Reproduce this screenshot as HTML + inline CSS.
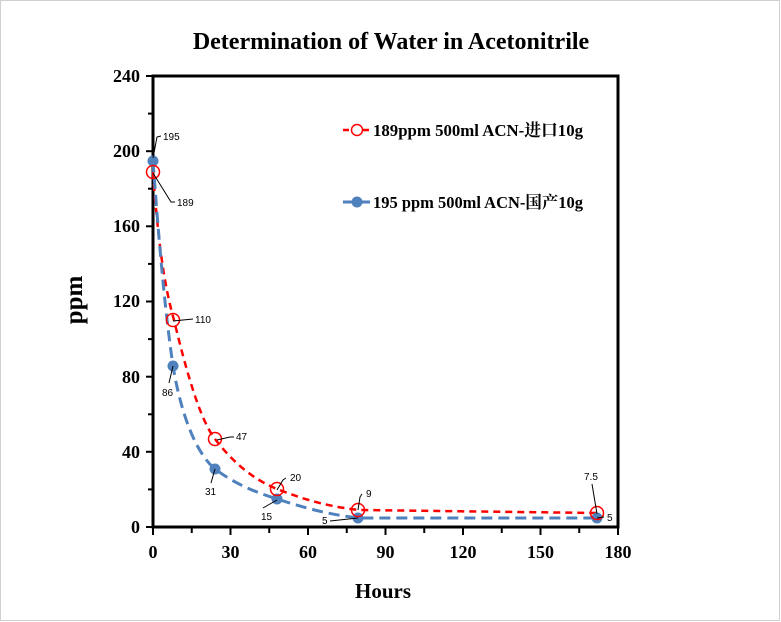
<!DOCTYPE html>
<html><head><meta charset="utf-8"><style>
html,body{margin:0;padding:0;background:#fff}
svg{display:block}
</style></head><body>
<svg width="781" height="622" xmlns="http://www.w3.org/2000/svg" font-family="Liberation Serif, Noto Serif CJK SC, serif">
<rect x="0.5" y="0.5" width="779" height="620" fill="#fff" stroke="#d0d0d0"/>
<text x="391" y="49" text-anchor="middle" font-size="24" font-weight="bold">Determination  of Water in Acetonitrile</text>
<rect x="153" y="76" width="465" height="451" fill="none" stroke="#000" stroke-width="3"/>
<g stroke="#000" stroke-width="2">
<line x1="146" y1="76" x2="153" y2="76"/><line x1="148" y1="113.6" x2="153" y2="113.6"/>
<line x1="146" y1="151.2" x2="153" y2="151.2"/><line x1="148" y1="188.7" x2="153" y2="188.7"/>
<line x1="146" y1="226.3" x2="153" y2="226.3"/><line x1="148" y1="263.9" x2="153" y2="263.9"/>
<line x1="146" y1="301.5" x2="153" y2="301.5"/><line x1="148" y1="339.1" x2="153" y2="339.1"/>
<line x1="146" y1="376.7" x2="153" y2="376.7"/><line x1="148" y1="414.3" x2="153" y2="414.3"/>
<line x1="146" y1="451.8" x2="153" y2="451.8"/><line x1="148" y1="489.4" x2="153" y2="489.4"/>
<line x1="146" y1="527" x2="153" y2="527"/>
<line x1="153" y1="527" x2="153" y2="535"/><line x1="191.75" y1="527" x2="191.75" y2="533"/>
<line x1="230.5" y1="527" x2="230.5" y2="535"/><line x1="269.25" y1="527" x2="269.25" y2="533"/>
<line x1="308" y1="527" x2="308" y2="535"/><line x1="346.75" y1="527" x2="346.75" y2="533"/>
<line x1="385.5" y1="527" x2="385.5" y2="535"/><line x1="424.25" y1="527" x2="424.25" y2="533"/>
<line x1="463" y1="527" x2="463" y2="535"/><line x1="501.75" y1="527" x2="501.75" y2="533"/>
<line x1="540.5" y1="527" x2="540.5" y2="535"/><line x1="579.25" y1="527" x2="579.25" y2="533"/>
<line x1="618" y1="527" x2="618" y2="535"/>
</g>
<g font-size="18" font-weight="bold" text-anchor="end">
<text x="140" y="82">240</text><text x="140" y="157">200</text><text x="140" y="232">160</text>
<text x="140" y="307">120</text><text x="140" y="383">80</text><text x="140" y="458">40</text><text x="140" y="533">0</text>
</g>
<g font-size="18" font-weight="bold" text-anchor="middle">
<text x="153" y="558">0</text><text x="230.5" y="558">30</text><text x="308" y="558">60</text>
<text x="385.5" y="558">90</text><text x="463" y="558">120</text><text x="540.5" y="558">150</text><text x="618" y="558">180</text>
</g>
<text x="383" y="598" text-anchor="middle" font-size="21" font-weight="bold">Hours</text>
<text transform="translate(82,300) rotate(-90)" text-anchor="middle" font-size="25" font-weight="bold">ppm</text>
<path d="M153,172 C158,240 164,285 174,320 C186,370 200,420 215,439 C235,465 255,480 277,489 C305,500 330,507 360,510 L597,513" fill="none" stroke="#ff0000" stroke-width="2.5" stroke-dasharray="7,5"/>
<path d="M153,161 C160,255 165,310 173,366 C182,420 198,455 215,469 C235,484 255,492 277,499 C305,508 330,515 360,518 L597,518" fill="none" stroke="#4f81bd" stroke-width="3" stroke-dasharray="11,6"/>
<g fill="#4f81bd">
<circle cx="153" cy="161" r="5.5"/><circle cx="173" cy="366" r="5.5"/><circle cx="215" cy="469" r="5.5"/>
<circle cx="277" cy="499" r="5.5"/><circle cx="358" cy="518" r="5.5"/><circle cx="597" cy="518" r="5.5"/>
</g>
<g fill="none" stroke="#ff0000" stroke-width="1.5">
<circle cx="153" cy="172" r="6.5"/><circle cx="173" cy="320" r="6.5"/><circle cx="215" cy="439" r="6.5"/>
<circle cx="277" cy="489" r="6.5"/><circle cx="358" cy="510" r="6.5"/><circle cx="597" cy="513" r="6.5"/>
</g>
<g stroke="#000" stroke-width="1" fill="none">
<polyline points="153,158 157,137 161,136"/>
<polyline points="153,173 171,202 175,202"/>
<polyline points="173,321 193,319"/>
<polyline points="173,366 169,383"/>
<polyline points="217,440 230,437 234,437"/>
<polyline points="215,469 211,483"/>
<polyline points="277,490 283,480 286,478"/>
<polyline points="277,500 263,508"/>
<polyline points="358,510 360,497 362,494"/>
<polyline points="358,518 330,521"/>
<polyline points="597,514 592,484"/>
<polyline points="597,518 604,517"/>
</g>
<g font-family="Liberation Sans, sans-serif" font-size="10" fill="#000">
<text x="163" y="140">195</text><text x="177" y="206">189</text><text x="195" y="323">110</text>
<text x="162" y="396">86</text><text x="236" y="440">47</text><text x="205" y="495">31</text>
<text x="290" y="481">20</text><text x="261" y="520">15</text><text x="366" y="497">9</text>
<text x="322" y="524">5</text><text x="584" y="480">7.5</text><text x="607" y="521">5</text>
</g>
<line x1="343" y1="130" x2="370" y2="130" stroke="#ff0000" stroke-width="2.5" stroke-dasharray="6,4"/>
<circle cx="357" cy="130" r="5.5" fill="#fff" stroke="#ff0000" stroke-width="1.5"/>
<text x="373" y="136" font-size="17" font-weight="bold" textLength="210" lengthAdjust="spacingAndGlyphs">189ppm  500ml ACN-进口10g</text>
<line x1="343" y1="202" x2="370" y2="202" stroke="#4f81bd" stroke-width="3"/>
<circle cx="357" cy="202" r="5.5" fill="#4f81bd"/>
<text x="373" y="208" font-size="17" font-weight="bold" textLength="210" lengthAdjust="spacingAndGlyphs">195 ppm 500ml ACN-国产10g</text>
</svg>
</body></html>
